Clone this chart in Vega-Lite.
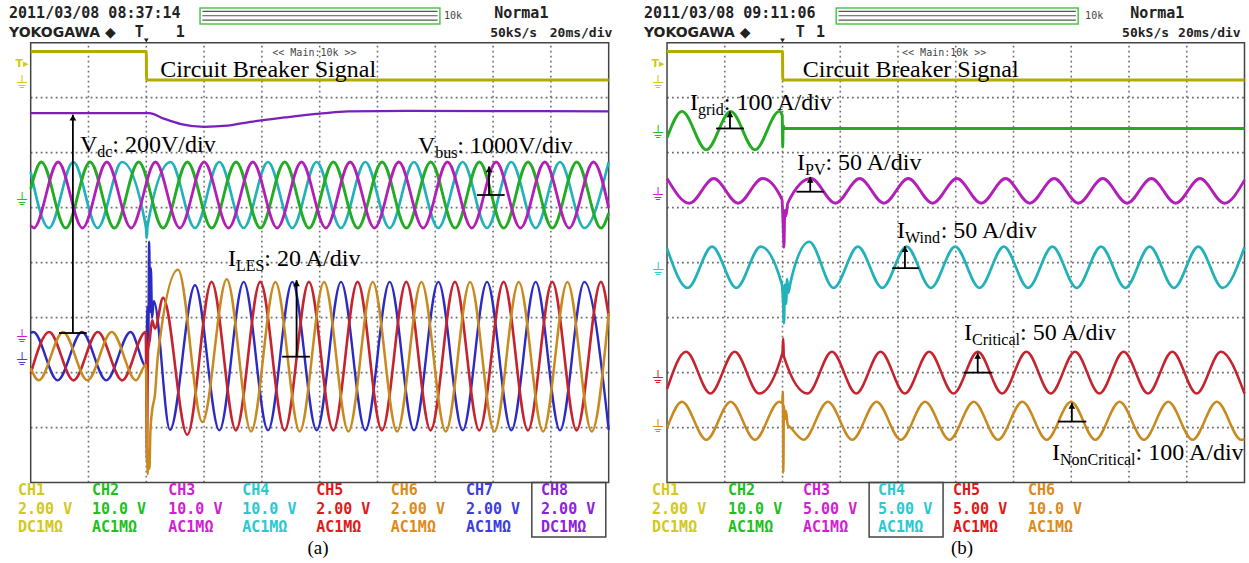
{
"$schema": "https://vega.github.io/schema/vega-lite/v6.json",
"background": "white",
"padding": 0,
"spacing": 0,
"config": {"view": {"stroke": null}, "concat": {"spacing": 0}},
"datasets": {
"gx": [{"x":1,"y":0,"y2":8},{"x":2,"y":0,"y2":8},{"x":3,"y":0,"y2":8},{"x":4,"y":0,"y2":8},{"x":5,"y":0,"y2":8},{"x":6,"y":0,"y2":8},{"x":7,"y":0,"y2":8},{"x":8,"y":0,"y2":8},{"x":9,"y":0,"y2":8}],
"gy": [{"y":1,"x":0,"x2":10},{"y":2,"x":0,"x2":10},{"y":3,"x":0,"x2":10},{"y":4,"x":0,"x2":10},{"y":5,"x":0,"x2":10},{"y":6,"x":0,"x2":10},{"y":7,"x":0,"x2":10}],
"box": [{"p":"a","x":0,"x2":10,"y":0,"y2":8},{"p":"a","x":8.67,"x2":9.95,"y":-0.987,"y2":0},{"p":"b","x":0,"x2":10,"y":0,"y2":8},{"p":"b","x":3.5,"x2":4.78,"y":-0.987,"y2":0}],
"hbar": [{"p":"a","x":2.93,"x2":7.08,"y":8.34,"y2":8.63},{"p":"b","x":2.93,"x2":7.12,"y":8.34,"y2":8.63}],
"bl": [{"p":"a","x":2.97,"x2":7.04,"y":8.57},{"p":"a","x":2.97,"x2":7.04,"y":8.49},{"p":"a","x":2.97,"x2":7.04,"y":8.41},{"p":"b","x":2.97,"x2":7.08,"y":8.57},{"p":"b","x":2.97,"x2":7.08,"y":8.49},{"p":"b","x":2.97,"x2":7.08,"y":8.41}],
"trig": [{"p":"a","x":2.0,"y":8.04},{"p":"b","x":2.0,"y":8.04}],
"tl": [{"p":"a","c":"CH1","x":-0.15,"y":7.62},{"p":"b","c":"CH1","x":-0.156,"y":7.62}],
"tr": [
{"p":"a","c":"CH1","x":0,"y":7.84},{"p":"a","c":"CH1","x":2.0,"y":7.84},{"p":"a","c":"CH1","x":2.004,"y":7.32},{"p":"a","c":"CH1","x":10,"y":7.32},
{"p":"a","c":"CH8","x":0,"y":6.72},{"p":"a","c":"CH8","x":2.05,"y":6.72},{"p":"a","c":"CH8","x":2.3,"y":6.62},{"p":"a","c":"CH8","x":2.6,"y":6.52},{"p":"a","c":"CH8","x":3.0,"y":6.47},{"p":"a","c":"CH8","x":3.4,"y":6.49},{"p":"a","c":"CH8","x":3.8,"y":6.56},{"p":"a","c":"CH8","x":4.4,"y":6.64},{"p":"a","c":"CH8","x":5.0,"y":6.71},{"p":"a","c":"CH8","x":5.5,"y":6.75},{"p":"a","c":"CH8","x":6.5,"y":6.76},{"p":"a","c":"CH8","x":10,"y":6.75},
{"p":"a","c":"CH4","x":0,"y":5.65},{"p":"a","c":"CH4","x":0.316,"y":4.63},{"p":"a","c":"CH4","x":0.737,"y":5.83},{"p":"a","c":"CH4","x":1.158,"y":4.63},{"p":"a","c":"CH4","x":1.579,"y":5.83},{"p":"a","c":"CH4","x":1.995,"y":4.64},{"p":"a","c":"CH4","x":2.008,"y":4.45},{"p":"a","c":"CH4","x":2.02,"y":4.66},{"p":"a","c":"CH4","x":2.421,"y":5.83},{"p":"a","c":"CH4","x":2.842,"y":4.63},{"p":"a","c":"CH4","x":3.263,"y":5.83},{"p":"a","c":"CH4","x":3.684,"y":4.63},{"p":"a","c":"CH4","x":4.105,"y":5.83},{"p":"a","c":"CH4","x":4.526,"y":4.63},{"p":"a","c":"CH4","x":4.947,"y":5.83},{"p":"a","c":"CH4","x":5.368,"y":4.63},{"p":"a","c":"CH4","x":5.789,"y":5.83},{"p":"a","c":"CH4","x":6.21,"y":4.63},{"p":"a","c":"CH4","x":6.631,"y":5.83},{"p":"a","c":"CH4","x":7.052,"y":4.63},{"p":"a","c":"CH4","x":7.473,"y":5.83},{"p":"a","c":"CH4","x":7.894,"y":4.63},{"p":"a","c":"CH4","x":8.315,"y":5.83},{"p":"a","c":"CH4","x":8.736,"y":4.63},{"p":"a","c":"CH4","x":9.157,"y":5.83},{"p":"a","c":"CH4","x":9.578,"y":4.63},{"p":"a","c":"CH4","x":9.999,"y":5.83},
{"p":"a","c":"CH2","x":0,"y":5.34},{"p":"a","c":"CH2","x":0.185,"y":5.83},{"p":"a","c":"CH2","x":0.606,"y":4.63},{"p":"a","c":"CH2","x":1.027,"y":5.83},{"p":"a","c":"CH2","x":1.448,"y":4.63},{"p":"a","c":"CH2","x":1.869,"y":5.83},{"p":"a","c":"CH2","x":2.29,"y":4.63},{"p":"a","c":"CH2","x":2.711,"y":5.83},{"p":"a","c":"CH2","x":3.132,"y":4.63},{"p":"a","c":"CH2","x":3.553,"y":5.83},{"p":"a","c":"CH2","x":3.974,"y":4.63},{"p":"a","c":"CH2","x":4.395,"y":5.83},{"p":"a","c":"CH2","x":4.816,"y":4.63},{"p":"a","c":"CH2","x":5.237,"y":5.83},{"p":"a","c":"CH2","x":5.658,"y":4.63},{"p":"a","c":"CH2","x":6.079,"y":5.83},{"p":"a","c":"CH2","x":6.5,"y":4.63},{"p":"a","c":"CH2","x":6.921,"y":5.83},{"p":"a","c":"CH2","x":7.342,"y":4.63},{"p":"a","c":"CH2","x":7.763,"y":5.83},{"p":"a","c":"CH2","x":8.184,"y":4.63},{"p":"a","c":"CH2","x":8.605,"y":5.83},{"p":"a","c":"CH2","x":9.026,"y":4.63},{"p":"a","c":"CH2","x":9.447,"y":5.83},{"p":"a","c":"CH2","x":9.868,"y":4.63},{"p":"a","c":"CH2","x":10,"y":4.9},
{"p":"a","c":"CH3","x":0,"y":4.68},{"p":"a","c":"CH3","x":0.054,"y":4.63},{"p":"a","c":"CH3","x":0.475,"y":5.83},{"p":"a","c":"CH3","x":0.896,"y":4.63},{"p":"a","c":"CH3","x":1.317,"y":5.83},{"p":"a","c":"CH3","x":1.738,"y":4.63},{"p":"a","c":"CH3","x":2.159,"y":5.83},{"p":"a","c":"CH3","x":2.58,"y":4.63},{"p":"a","c":"CH3","x":3.001,"y":5.83},{"p":"a","c":"CH3","x":3.422,"y":4.63},{"p":"a","c":"CH3","x":3.843,"y":5.83},{"p":"a","c":"CH3","x":4.264,"y":4.63},{"p":"a","c":"CH3","x":4.685,"y":5.83},{"p":"a","c":"CH3","x":5.106,"y":4.63},{"p":"a","c":"CH3","x":5.527,"y":5.83},{"p":"a","c":"CH3","x":5.948,"y":4.63},{"p":"a","c":"CH3","x":6.369,"y":5.83},{"p":"a","c":"CH3","x":6.79,"y":4.63},{"p":"a","c":"CH3","x":7.211,"y":5.83},{"p":"a","c":"CH3","x":7.632,"y":4.63},{"p":"a","c":"CH3","x":8.053,"y":5.83},{"p":"a","c":"CH3","x":8.474,"y":4.63},{"p":"a","c":"CH3","x":8.895,"y":5.83},{"p":"a","c":"CH3","x":9.316,"y":4.63},{"p":"a","c":"CH3","x":9.737,"y":5.83},{"p":"a","c":"CH3","x":10,"y":5.0},
{"p":"a","c":"CH7","x":0,"y":2.72},{"p":"a","c":"CH7","x":0.045,"y":2.74},{"p":"a","c":"CH7","x":0.466,"y":1.86},{"p":"a","c":"CH7","x":0.887,"y":2.74},{"p":"a","c":"CH7","x":1.308,"y":1.86},{"p":"a","c":"CH7","x":1.729,"y":2.74},{"p":"a","c":"CH7","x":2.0,"y":2.11},{"p":"a","c":"CH7","x":2.02,"y":3.2},{"p":"a","c":"CH7","x":2.035,"y":2.6},{"p":"a","c":"CH7","x":2.05,"y":4.38},{"p":"a","c":"CH7","x":2.065,"y":3.1},{"p":"a","c":"CH7","x":2.08,"y":3.9},{"p":"a","c":"CH7","x":2.1,"y":3.0},{"p":"a","c":"CH7","x":2.13,"y":3.3},{"p":"a","c":"CH7","x":2.41,"y":0.96},{"p":"a","c":"CH7","x":2.843,"y":3.59},{"p":"a","c":"CH7","x":3.264,"y":0.95},{"p":"a","c":"CH7","x":3.685,"y":3.65},{"p":"a","c":"CH7","x":4.106,"y":0.95},{"p":"a","c":"CH7","x":4.527,"y":3.65},{"p":"a","c":"CH7","x":4.948,"y":0.95},{"p":"a","c":"CH7","x":5.369,"y":3.65},{"p":"a","c":"CH7","x":5.79,"y":0.95},{"p":"a","c":"CH7","x":6.211,"y":3.65},{"p":"a","c":"CH7","x":6.632,"y":0.95},{"p":"a","c":"CH7","x":7.053,"y":3.65},{"p":"a","c":"CH7","x":7.474,"y":0.95},{"p":"a","c":"CH7","x":7.895,"y":3.65},{"p":"a","c":"CH7","x":8.316,"y":0.95},{"p":"a","c":"CH7","x":8.737,"y":3.65},{"p":"a","c":"CH7","x":9.158,"y":0.95},{"p":"a","c":"CH7","x":9.579,"y":3.65},{"p":"a","c":"CH7","x":10,"y":0.96},
{"p":"a","c":"CH5","x":0,"y":1.98},{"p":"a","c":"CH5","x":0.32,"y":2.74},{"p":"a","c":"CH5","x":0.741,"y":1.86},{"p":"a","c":"CH5","x":1.162,"y":2.74},{"p":"a","c":"CH5","x":1.583,"y":1.86},{"p":"a","c":"CH5","x":1.99,"y":2.74},{"p":"a","c":"CH5","x":2.005,"y":1.2},{"p":"a","c":"CH5","x":2.012,"y":0.4},{"p":"a","c":"CH5","x":2.02,"y":1.5},{"p":"a","c":"CH5","x":2.03,"y":2.4},{"p":"a","c":"CH5","x":2.06,"y":2.6},{"p":"a","c":"CH5","x":2.1,"y":2.95},{"p":"a","c":"CH5","x":2.15,"y":2.8},{"p":"a","c":"CH5","x":2.29,"y":3.36},{"p":"a","c":"CH5","x":2.709,"y":0.87},{"p":"a","c":"CH5","x":3.13,"y":3.65},{"p":"a","c":"CH5","x":3.551,"y":0.95},{"p":"a","c":"CH5","x":3.972,"y":3.65},{"p":"a","c":"CH5","x":4.393,"y":0.95},{"p":"a","c":"CH5","x":4.814,"y":3.65},{"p":"a","c":"CH5","x":5.235,"y":0.95},{"p":"a","c":"CH5","x":5.656,"y":3.65},{"p":"a","c":"CH5","x":6.077,"y":0.95},{"p":"a","c":"CH5","x":6.498,"y":3.65},{"p":"a","c":"CH5","x":6.919,"y":0.95},{"p":"a","c":"CH5","x":7.34,"y":3.65},{"p":"a","c":"CH5","x":7.761,"y":0.95},{"p":"a","c":"CH5","x":8.182,"y":3.65},{"p":"a","c":"CH5","x":8.603,"y":0.95},{"p":"a","c":"CH5","x":9.024,"y":3.65},{"p":"a","c":"CH5","x":9.445,"y":0.95},{"p":"a","c":"CH5","x":9.866,"y":3.65},{"p":"a","c":"CH5","x":10,"y":3.03},
{"p":"a","c":"CH6","x":0,"y":2.08},{"p":"a","c":"CH6","x":0.139,"y":1.86},{"p":"a","c":"CH6","x":0.56,"y":2.74},{"p":"a","c":"CH6","x":0.981,"y":1.86},{"p":"a","c":"CH6","x":1.402,"y":2.74},{"p":"a","c":"CH6","x":1.823,"y":1.86},{"p":"a","c":"CH6","x":1.995,"y":2.15},{"p":"a","c":"CH6","x":2.01,"y":1.0},{"p":"a","c":"CH6","x":2.025,"y":0.15},{"p":"a","c":"CH6","x":2.04,"y":0.6},{"p":"a","c":"CH6","x":2.055,"y":0.25},{"p":"a","c":"CH6","x":2.07,"y":0.9},{"p":"a","c":"CH6","x":2.1,"y":1.3},{"p":"a","c":"CH6","x":2.15,"y":1.6},{"p":"a","c":"CH6","x":2.2,"y":2.3},{"p":"a","c":"CH6","x":2.55,"y":3.87},{"p":"a","c":"CH6","x":2.971,"y":1.1},{"p":"a","c":"CH6","x":3.392,"y":3.7},{"p":"a","c":"CH6","x":3.813,"y":0.93},{"p":"a","c":"CH6","x":4.234,"y":3.65},{"p":"a","c":"CH6","x":4.655,"y":0.93},{"p":"a","c":"CH6","x":5.076,"y":3.65},{"p":"a","c":"CH6","x":5.497,"y":0.93},{"p":"a","c":"CH6","x":5.918,"y":3.65},{"p":"a","c":"CH6","x":6.339,"y":0.93},{"p":"a","c":"CH6","x":6.76,"y":3.65},{"p":"a","c":"CH6","x":7.181,"y":0.93},{"p":"a","c":"CH6","x":7.602,"y":3.65},{"p":"a","c":"CH6","x":8.023,"y":0.93},{"p":"a","c":"CH6","x":8.444,"y":3.65},{"p":"a","c":"CH6","x":8.865,"y":0.93},{"p":"a","c":"CH6","x":9.286,"y":3.65},{"p":"a","c":"CH6","x":9.707,"y":0.93},{"p":"a","c":"CH6","x":10,"y":3.08},
{"p":"b","c":"CH1","x":0,"y":7.84},{"p":"b","c":"CH1","x":2.0,"y":7.84},{"p":"b","c":"CH1","x":2.004,"y":7.32},{"p":"b","c":"CH1","x":10,"y":7.32},
{"p":"b","c":"CH2","x":0,"y":6.27},{"p":"b","c":"CH2","x":0.26,"y":6.75},{"p":"b","c":"CH2","x":0.681,"y":6.05},{"p":"b","c":"CH2","x":1.102,"y":6.75},{"p":"b","c":"CH2","x":1.523,"y":6.05},{"p":"b","c":"CH2","x":1.944,"y":6.75},{"p":"b","c":"CH2","x":1.995,"y":6.68},{"p":"b","c":"CH2","x":2.003,"y":6.1},{"p":"b","c":"CH2","x":2.012,"y":6.5},{"p":"b","c":"CH2","x":2.03,"y":6.44},{"p":"b","c":"CH2","x":10,"y":6.44},
{"p":"b","c":"CH3","x":0,"y":5.53},{"p":"b","c":"CH3","x":0.389,"y":5.08},{"p":"b","c":"CH3","x":0.81,"y":5.53},{"p":"b","c":"CH3","x":1.231,"y":5.08},{"p":"b","c":"CH3","x":1.652,"y":5.53},{"p":"b","c":"CH3","x":1.99,"y":5.15},{"p":"b","c":"CH3","x":2.01,"y":4.7},{"p":"b","c":"CH3","x":2.025,"y":4.28},{"p":"b","c":"CH3","x":2.04,"y":4.95},{"p":"b","c":"CH3","x":2.06,"y":4.85},{"p":"b","c":"CH3","x":2.09,"y":5.08},{"p":"b","c":"CH3","x":2.494,"y":5.53},{"p":"b","c":"CH3","x":2.915,"y":5.08},{"p":"b","c":"CH3","x":3.336,"y":5.53},{"p":"b","c":"CH3","x":3.757,"y":5.08},{"p":"b","c":"CH3","x":4.178,"y":5.53},{"p":"b","c":"CH3","x":4.599,"y":5.08},{"p":"b","c":"CH3","x":5.02,"y":5.53},{"p":"b","c":"CH3","x":5.441,"y":5.08},{"p":"b","c":"CH3","x":5.862,"y":5.53},{"p":"b","c":"CH3","x":6.283,"y":5.08},{"p":"b","c":"CH3","x":6.704,"y":5.53},{"p":"b","c":"CH3","x":7.125,"y":5.08},{"p":"b","c":"CH3","x":7.546,"y":5.53},{"p":"b","c":"CH3","x":7.967,"y":5.08},{"p":"b","c":"CH3","x":8.388,"y":5.53},{"p":"b","c":"CH3","x":8.809,"y":5.08},{"p":"b","c":"CH3","x":9.23,"y":5.53},{"p":"b","c":"CH3","x":9.651,"y":5.08},{"p":"b","c":"CH3","x":10,"y":5.5},
{"p":"b","c":"CH4","x":0,"y":4.26},{"p":"b","c":"CH4","x":0.359,"y":3.54},{"p":"b","c":"CH4","x":0.78,"y":4.29},{"p":"b","c":"CH4","x":1.201,"y":3.54},{"p":"b","c":"CH4","x":1.622,"y":4.29},{"p":"b","c":"CH4","x":1.99,"y":3.6},{"p":"b","c":"CH4","x":2.01,"y":3.3},{"p":"b","c":"CH4","x":2.025,"y":2.9},{"p":"b","c":"CH4","x":2.04,"y":3.6},{"p":"b","c":"CH4","x":2.06,"y":3.25},{"p":"b","c":"CH4","x":2.08,"y":3.7},{"p":"b","c":"CH4","x":2.1,"y":3.45},{"p":"b","c":"CH4","x":2.14,"y":3.65},{"p":"b","c":"CH4","x":2.464,"y":4.38},{"p":"b","c":"CH4","x":2.885,"y":3.54},{"p":"b","c":"CH4","x":3.306,"y":4.29},{"p":"b","c":"CH4","x":3.727,"y":3.54},{"p":"b","c":"CH4","x":4.148,"y":4.29},{"p":"b","c":"CH4","x":4.569,"y":3.54},{"p":"b","c":"CH4","x":4.99,"y":4.29},{"p":"b","c":"CH4","x":5.411,"y":3.54},{"p":"b","c":"CH4","x":5.832,"y":4.29},{"p":"b","c":"CH4","x":6.253,"y":3.54},{"p":"b","c":"CH4","x":6.674,"y":4.29},{"p":"b","c":"CH4","x":7.095,"y":3.54},{"p":"b","c":"CH4","x":7.516,"y":4.29},{"p":"b","c":"CH4","x":7.937,"y":3.54},{"p":"b","c":"CH4","x":8.358,"y":4.29},{"p":"b","c":"CH4","x":8.779,"y":3.54},{"p":"b","c":"CH4","x":9.2,"y":4.29},{"p":"b","c":"CH4","x":9.621,"y":3.54},{"p":"b","c":"CH4","x":10,"y":4.28},
{"p":"b","c":"CH5","x":0,"y":1.7},{"p":"b","c":"CH5","x":0.33,"y":2.38},{"p":"b","c":"CH5","x":0.751,"y":1.62},{"p":"b","c":"CH5","x":1.172,"y":2.38},{"p":"b","c":"CH5","x":1.593,"y":1.62},{"p":"b","c":"CH5","x":2.0,"y":2.36},{"p":"b","c":"CH5","x":2.012,"y":2.62},{"p":"b","c":"CH5","x":2.022,"y":2.3},{"p":"b","c":"CH5","x":2.435,"y":1.62},{"p":"b","c":"CH5","x":2.856,"y":2.38},{"p":"b","c":"CH5","x":3.277,"y":1.62},{"p":"b","c":"CH5","x":3.698,"y":2.38},{"p":"b","c":"CH5","x":4.119,"y":1.62},{"p":"b","c":"CH5","x":4.54,"y":2.38},{"p":"b","c":"CH5","x":4.961,"y":1.62},{"p":"b","c":"CH5","x":5.382,"y":2.38},{"p":"b","c":"CH5","x":5.803,"y":1.62},{"p":"b","c":"CH5","x":6.224,"y":2.38},{"p":"b","c":"CH5","x":6.645,"y":1.62},{"p":"b","c":"CH5","x":7.066,"y":2.38},{"p":"b","c":"CH5","x":7.487,"y":1.62},{"p":"b","c":"CH5","x":7.908,"y":2.38},{"p":"b","c":"CH5","x":8.329,"y":1.62},{"p":"b","c":"CH5","x":8.75,"y":2.38},{"p":"b","c":"CH5","x":9.171,"y":1.62},{"p":"b","c":"CH5","x":9.592,"y":2.38},{"p":"b","c":"CH5","x":10,"y":1.62},
{"p":"b","c":"CH6","x":0,"y":0.99},{"p":"b","c":"CH6","x":0.26,"y":1.47},{"p":"b","c":"CH6","x":0.681,"y":0.78},{"p":"b","c":"CH6","x":1.102,"y":1.47},{"p":"b","c":"CH6","x":1.523,"y":0.78},{"p":"b","c":"CH6","x":1.944,"y":1.47},{"p":"b","c":"CH6","x":1.995,"y":1.45},{"p":"b","c":"CH6","x":2.006,"y":1.65},{"p":"b","c":"CH6","x":2.014,"y":0.18},{"p":"b","c":"CH6","x":2.024,"y":1.4},{"p":"b","c":"CH6","x":2.04,"y":1.15},{"p":"b","c":"CH6","x":2.06,"y":1.3},{"p":"b","c":"CH6","x":2.09,"y":1.05},{"p":"b","c":"CH6","x":2.14,"y":1.0},{"p":"b","c":"CH6","x":2.365,"y":0.78},{"p":"b","c":"CH6","x":2.786,"y":1.47},{"p":"b","c":"CH6","x":3.207,"y":0.78},{"p":"b","c":"CH6","x":3.628,"y":1.47},{"p":"b","c":"CH6","x":4.049,"y":0.78},{"p":"b","c":"CH6","x":4.47,"y":1.47},{"p":"b","c":"CH6","x":4.891,"y":0.78},{"p":"b","c":"CH6","x":5.312,"y":1.47},{"p":"b","c":"CH6","x":5.733,"y":0.78},{"p":"b","c":"CH6","x":6.154,"y":1.47},{"p":"b","c":"CH6","x":6.575,"y":0.78},{"p":"b","c":"CH6","x":6.996,"y":1.47},{"p":"b","c":"CH6","x":7.417,"y":0.78},{"p":"b","c":"CH6","x":7.838,"y":1.47},{"p":"b","c":"CH6","x":8.259,"y":0.78},{"p":"b","c":"CH6","x":8.68,"y":1.47},{"p":"b","c":"CH6","x":9.101,"y":0.78},{"p":"b","c":"CH6","x":9.522,"y":1.47},{"p":"b","c":"CH6","x":9.943,"y":0.78},{"p":"b","c":"CH6","x":10,"y":0.79}
],
"arr": [
{"p":"a","x":0.73,"xa":0.49,"xb":0.97,"y":2.72,"yt":6.69},
{"p":"a","x":7.93,"xa":7.72,"xb":8.2,"y":5.23,"yt":5.75},
{"p":"a","x":4.6,"xa":4.35,"xb":4.83,"y":2.29,"yt":3.68},
{"p":"b","x":1.09,"xa":0.85,"xb":1.33,"y":6.44,"yt":6.75},
{"p":"b","x":2.48,"xa":2.24,"xb":2.72,"y":5.29,"yt":5.56},
{"p":"b","x":4.12,"xa":3.9,"xb":4.36,"y":3.9,"yt":4.3},
{"p":"b","x":5.38,"xa":5.14,"xb":5.63,"y":2.0,"yt":2.36},
{"p":"b","x":7.01,"xa":6.77,"xb":7.26,"y":1.11,"yt":1.45}
],
"lab": [
{"p":"a","t":"Circuit Breaker Signal","x":2.24,"y":7.38},
{"p":"a","t":"V","x":0.853,"y":6.02},{"p":"a","t":": 200V/div","x":1.413,"y":6.02},
{"p":"a","t":"V","x":6.7,"y":5.99},{"p":"a","t":": 1000V/div","x":7.38,"y":5.99},
{"p":"a","t":"I","x":3.414,"y":3.93},{"p":"a","t":": 20 A/div","x":4.043,"y":3.93},
{"p":"b","t":"Circuit Breaker Signal","x":2.35,"y":7.38},
{"p":"b","t":"I","x":0.398,"y":6.78},{"p":"b","t":": 100 A/div","x":0.984,"y":6.78},
{"p":"b","t":"I","x":2.251,"y":5.69},{"p":"b","t":": 50 A/div","x":2.743,"y":5.69},
{"p":"b","t":"I","x":3.983,"y":4.44},{"p":"b","t":": 50 A/div","x":4.738,"y":4.44},
{"p":"b","t":"I","x":5.143,"y":2.59},{"p":"b","t":": 50 A/div","x":6.113,"y":2.59},
{"p":"b","t":"I","x":6.667,"y":0.41},{"p":"b","t":": 100 A/div","x":8.114,"y":0.41}
],
"sub": [
{"p":"a","t":"dc","x":1.152,"y":5.93},{"p":"a","t":"bus","x":7.0,"y":5.9},{"p":"a","t":"LES","x":3.552,"y":3.84},
{"p":"b","t":"grid","x":0.537,"y":6.69},{"p":"b","t":"PV","x":2.39,"y":5.6},{"p":"b","t":"Wind","x":4.121,"y":4.35},{"p":"b","t":"Critical","x":5.281,"y":2.5},{"p":"b","t":"NonCritical","x":6.805,"y":0.32}
],
"hmono": [
{"p":"a","t":"2011/03/08 08:37:14","x":-0.375,"y":8.45},{"p":"a","t":"Norma1","x":8.02,"y":8.45},{"p":"a","t":"T","x":1.8,"y":8.1},{"p":"a","t":"1","x":2.51,"y":8.1},
{"p":"b","t":"2011/03/08 09:11:06","x":-0.4,"y":8.45},{"p":"b","t":"Norma1","x":8.02,"y":8.45},{"p":"b","t":"T","x":2.23,"y":8.1},{"p":"b","t":"1","x":2.58,"y":8.1}
],
"hmono2": [
{"p":"a","t":"50kS/s","x":7.95,"y":8.1},{"p":"a","t":"20ms/div","x":8.98,"y":8.1},
{"p":"b","t":"50kS/s","x":7.88,"y":8.1},{"p":"b","t":"20ms/div","x":8.85,"y":8.1}
],
"hsans": [
{"p":"a","t":"YOKOGAWA ◆","x":-0.375,"y":8.1},{"p":"b","t":"YOKOGAWA ◆","x":-0.4,"y":8.1}
],
"hsmall": [
{"p":"a","t":"10k","x":7.15,"y":8.43},{"p":"a","t":"<< Main:10k >>","x":4.18,"y":7.76},
{"p":"b","t":"10k","x":7.24,"y":8.43},{"p":"b","t":"<< Main:10k >>","x":4.07,"y":7.76}
],
"foot": [
{"p":"a","c":"CH1","t":"CH1","x":-0.22,"y":-0.133},{"p":"a","c":"CH1","t":"2.00 V","x":-0.22,"y":-0.478},{"p":"a","c":"CH1","t":"DC1MΩ","x":-0.22,"y":-0.805},
{"p":"a","c":"CH2","t":"CH2","x":1.06,"y":-0.133},{"p":"a","c":"CH2","t":"10.0 V","x":1.06,"y":-0.478},{"p":"a","c":"CH2","t":"AC1MΩ","x":1.06,"y":-0.805},
{"p":"a","c":"CH3","t":"CH3","x":2.38,"y":-0.133},{"p":"a","c":"CH3","t":"10.0 V","x":2.38,"y":-0.478},{"p":"a","c":"CH3","t":"AC1MΩ","x":2.38,"y":-0.805},
{"p":"a","c":"CH4","t":"CH4","x":3.66,"y":-0.133},{"p":"a","c":"CH4","t":"10.0 V","x":3.66,"y":-0.478},{"p":"a","c":"CH4","t":"AC1MΩ","x":3.66,"y":-0.805},
{"p":"a","c":"CH5","t":"CH5","x":4.94,"y":-0.133},{"p":"a","c":"CH5","t":"2.00 V","x":4.94,"y":-0.478},{"p":"a","c":"CH5","t":"AC1MΩ","x":4.94,"y":-0.805},
{"p":"a","c":"CH6","t":"CH6","x":6.23,"y":-0.133},{"p":"a","c":"CH6","t":"2.00 V","x":6.23,"y":-0.478},{"p":"a","c":"CH6","t":"AC1MΩ","x":6.23,"y":-0.805},
{"p":"a","c":"CH7","t":"CH7","x":7.53,"y":-0.133},{"p":"a","c":"CH7","t":"2.00 V","x":7.53,"y":-0.478},{"p":"a","c":"CH7","t":"AC1MΩ","x":7.53,"y":-0.805},
{"p":"a","c":"CH8","t":"CH8","x":8.83,"y":-0.133},{"p":"a","c":"CH8","t":"2.00 V","x":8.83,"y":-0.478},{"p":"a","c":"CH8","t":"DC1MΩ","x":8.83,"y":-0.805},
{"p":"b","c":"CH1","t":"CH1","x":-0.26,"y":-0.133},{"p":"b","c":"CH1","t":"2.00 V","x":-0.26,"y":-0.478},{"p":"b","c":"CH1","t":"DC1MΩ","x":-0.26,"y":-0.805},
{"p":"b","c":"CH2","t":"CH2","x":1.056,"y":-0.133},{"p":"b","c":"CH2","t":"10.0 V","x":1.056,"y":-0.478},{"p":"b","c":"CH2","t":"AC1MΩ","x":1.056,"y":-0.805},
{"p":"b","c":"CH3","t":"CH3","x":2.355,"y":-0.133},{"p":"b","c":"CH3","t":"5.00 V","x":2.355,"y":-0.478},{"p":"b","c":"CH3","t":"AC1MΩ","x":2.355,"y":-0.805},
{"p":"b","c":"CH4","t":"CH4","x":3.654,"y":-0.133},{"p":"b","c":"CH4","t":"5.00 V","x":3.654,"y":-0.478},{"p":"b","c":"CH4","t":"AC1MΩ","x":3.654,"y":-0.805},
{"p":"b","c":"CH5","t":"CH5","x":4.952,"y":-0.133},{"p":"b","c":"CH5","t":"5.00 V","x":4.952,"y":-0.478},{"p":"b","c":"CH5","t":"AC1MΩ","x":4.952,"y":-0.805},
{"p":"b","c":"CH6","t":"CH6","x":6.25,"y":-0.133},{"p":"b","c":"CH6","t":"10.0 V","x":6.25,"y":-0.478},{"p":"b","c":"CH6","t":"AC1MΩ","x":6.25,"y":-0.805}
],
"gnd": [
{"p":"a","c":"CH1","x":-0.15,"y":7.27},{"p":"a","c":"CH2","x":-0.15,"y":5.14},{"p":"a","c":"CH3","x":-0.15,"y":2.65},{"p":"a","c":"CH7","x":-0.15,"y":2.23},
{"p":"b","c":"CH1","x":-0.156,"y":7.27},{"p":"b","c":"CH2","x":-0.156,"y":6.36},{"p":"b","c":"CH3","x":-0.156,"y":5.23},{"p":"b","c":"CH4","x":-0.156,"y":3.87},{"p":"b","c":"CH5","x":-0.156,"y":1.9},{"p":"b","c":"CH6","x":-0.156,"y":1.01}
],
"cap": [{"p":"a","t":"(a)","x":4.97,"y":-1.19},{"p":"b","t":"(b)","x":5.11,"y":-1.19}]
},
"hconcat": [
{
"width": 624, "height": 563,
"encoding": {
"x": {"field":"x","type":"quantitative","scale":{"domain":[-0.531,10.265],"nice":false,"zero":false},"axis":null},
"y": {"field":"y","type":"quantitative","scale":{"domain":[-1.4618,8.776],"nice":false,"zero":false},"axis":null}
},
"layer": [
{"data":{"name":"gx"},"mark":{"type":"rule","stroke":"#6e6e6e","strokeDash":[1.8,3.2],"strokeWidth":1.6},"encoding":{"y2":{"field":"y2"}}},
{"data":{"name":"gy"},"mark":{"type":"rule","stroke":"#6e6e6e","strokeDash":[1.8,3.2],"strokeWidth":1.6},"encoding":{"x2":{"field":"x2"}}},
{"data":{"name":"box"},"transform":[{"filter":"datum.p=='a'"}],"mark":{"type":"rect","fillOpacity":0,"stroke":"#444","strokeWidth":1.5},"encoding":{"x2":{"field":"x2"},"y2":{"field":"y2"}}},
{"data":{"name":"hbar"},"transform":[{"filter":"datum.p=='a'"}],"mark":{"type":"rect","fillOpacity":0,"stroke":"#4cc84c","strokeWidth":1.5},"encoding":{"x2":{"field":"x2"},"y2":{"field":"y2"}}},
{"data":{"name":"bl"},"transform":[{"filter":"datum.p=='a'"}],"mark":{"type":"rule","stroke":"#555","strokeWidth":1.2},"encoding":{"x2":{"field":"x2"}}},
{"data":{"name":"tr"},"transform":[{"filter":"datum.p=='a'"}],"mark":{"type":"line","interpolate":"monotone"},
 "encoding":{"stroke":{"field":"c","type":"nominal","legend":null,"scale":{"domain":["CH1","CH2","CH3","CH4","CH5","CH6","CH7","CH8"],"range":["#b3ab00","#23ac23","#b21fb8","#20b2b8","#c4232f","#c8891f","#2b2bc4","#7a1fb8"]}},
 "strokeWidth":{"field":"c","type":"nominal","legend":null,"scale":{"domain":["CH1","CH2","CH3","CH4","CH5","CH6","CH7","CH8"],"range":[3,2.3,2.3,2.3,2.2,2.2,2.2,3.8]}}}},
{"data":{"name":"arr"},"transform":[{"filter":"datum.p=='a'"}],"mark":{"type":"rule","stroke":"black","strokeWidth":1.8},"encoding":{"y2":{"field":"yt"}}},
{"data":{"name":"arr"},"transform":[{"filter":"datum.p=='a'"}],"mark":{"type":"rule","stroke":"black","strokeWidth":1.8},"encoding":{"x":{"field":"xa","type":"quantitative"},"x2":{"field":"xb"}}},
{"data":{"name":"arr"},"transform":[{"filter":"datum.p=='a'"}],"mark":{"type":"point","shape":"triangle-up","filled":true,"color":"black","size":45,"opacity":1,"yOffset":3},"encoding":{"y":{"field":"yt","type":"quantitative"}}},
{"data":{"name":"trig"},"transform":[{"filter":"datum.p=='a'"}],"mark":{"type":"point","shape":"triangle-down","filled":true,"color":"#222","size":22,"opacity":1},"encoding":{}},
{"data":{"name":"lab"},"transform":[{"filter":"datum.p=='a'"}],"mark":{"type":"text","font":"Liberation Serif","fontSize":24,"align":"left","baseline":"alphabetic","color":"black"},"encoding":{"text":{"field":"t"}}},
{"data":{"name":"sub"},"transform":[{"filter":"datum.p=='a'"}],"mark":{"type":"text","font":"Liberation Serif","fontSize":16,"align":"left","baseline":"alphabetic","color":"black"},"encoding":{"text":{"field":"t"}}},
{"data":{"name":"hmono"},"transform":[{"filter":"datum.p=='a'"}],"mark":{"type":"text","font":"DejaVu Sans Mono","fontWeight":"bold","fontSize":15,"align":"left","baseline":"alphabetic","color":"#222"},"encoding":{"text":{"field":"t"}}},
{"data":{"name":"hmono2"},"transform":[{"filter":"datum.p=='a'"}],"mark":{"type":"text","font":"DejaVu Sans Mono","fontWeight":"bold","fontSize":13,"align":"left","baseline":"alphabetic","color":"#222"},"encoding":{"text":{"field":"t"}}},
{"data":{"name":"hsans"},"transform":[{"filter":"datum.p=='a'"}],"mark":{"type":"text","font":"DejaVu Sans","fontWeight":"bold","fontSize":14,"align":"left","baseline":"alphabetic","color":"#222"},"encoding":{"text":{"field":"t"}}},
{"data":{"name":"hsmall"},"transform":[{"filter":"datum.p=='a'"}],"mark":{"type":"text","font":"DejaVu Sans Mono","fontSize":10,"align":"left","baseline":"alphabetic","color":"#444"},"encoding":{"text":{"field":"t"}}},
{"data":{"name":"foot"},"transform":[{"filter":"datum.p=='a'"}],"mark":{"type":"text","font":"DejaVu Sans Mono","fontWeight":"bold","fontSize":15,"align":"left","baseline":"middle"},
 "encoding":{"text":{"field":"t"},"fill":{"field":"c","type":"nominal","legend":null,"scale":{"domain":["CH1","CH2","CH3","CH4","CH5","CH6","CH7","CH8"],"range":["#d2c81e","#1ec01e","#d21ed2","#2ac8d2","#e01a1a","#dc8a1a","#3c3ce0","#8c22e0"]}}}},
{"data":{"name":"gnd"},"transform":[{"filter":"datum.p=='a'"}],"mark":{"type":"text","font":"DejaVu Sans","fontSize":17,"align":"center","baseline":"middle"},
 "encoding":{"text":{"value":"⏚"},"fill":{"field":"c","type":"nominal","legend":null,"scale":{"domain":["CH1","CH2","CH3","CH4","CH5","CH6","CH7","CH8"],"range":["#d2c81e","#1ec01e","#d21ed2","#2ac8d2","#e01a1a","#dc8a1a","#3c3ce0","#8c22e0"]}}}},
{"data":{"name":"tl"},"transform":[{"filter":"datum.p=='a'"}],"mark":{"type":"text","font":"DejaVu Sans","fontWeight":"bold","fontSize":11,"align":"center","baseline":"middle"},
 "encoding":{"text":{"value":"T▸"},"fill":{"field":"c","type":"nominal","legend":null,"scale":{"domain":["CH1","CH2","CH3","CH4","CH5","CH6","CH7","CH8"],"range":["#d2c81e","#1ec01e","#d21ed2","#2ac8d2","#e01a1a","#dc8a1a","#3c3ce0","#8c22e0"]}}}},
{"data":{"name":"cap"},"transform":[{"filter":"datum.p=='a'"}],"mark":{"type":"text","font":"Liberation Serif","fontSize":19,"align":"center","baseline":"middle","color":"black"},"encoding":{"text":{"field":"t"}}}
]
},
{
"width": 625, "height": 563,
"encoding": {
"x": {"field":"x","type":"quantitative","scale":{"domain":[-0.745,10.078],"nice":false,"zero":false},"axis":null},
"y": {"field":"y","type":"quantitative","scale":{"domain":[-1.4618,8.776],"nice":false,"zero":false},"axis":null}
},
"layer": [
{"data":{"name":"gx"},"mark":{"type":"rule","stroke":"#6e6e6e","strokeDash":[1.8,3.2],"strokeWidth":1.6},"encoding":{"y2":{"field":"y2"}}},
{"data":{"name":"gy"},"mark":{"type":"rule","stroke":"#6e6e6e","strokeDash":[1.8,3.2],"strokeWidth":1.6},"encoding":{"x2":{"field":"x2"}}},
{"data":{"name":"box"},"transform":[{"filter":"datum.p=='b'"}],"mark":{"type":"rect","fillOpacity":0,"stroke":"#444","strokeWidth":1.5},"encoding":{"x2":{"field":"x2"},"y2":{"field":"y2"}}},
{"data":{"name":"hbar"},"transform":[{"filter":"datum.p=='b'"}],"mark":{"type":"rect","fillOpacity":0,"stroke":"#4cc84c","strokeWidth":1.5},"encoding":{"x2":{"field":"x2"},"y2":{"field":"y2"}}},
{"data":{"name":"bl"},"transform":[{"filter":"datum.p=='b'"}],"mark":{"type":"rule","stroke":"#555","strokeWidth":1.2},"encoding":{"x2":{"field":"x2"}}},
{"data":{"name":"tr"},"transform":[{"filter":"datum.p=='b'"}],"mark":{"type":"line","interpolate":"monotone"},
 "encoding":{"stroke":{"field":"c","type":"nominal","legend":null,"scale":{"domain":["CH1","CH2","CH3","CH4","CH5","CH6"],"range":["#b3ab00","#2a9f2a","#a01fa0","#1fa3a3","#b01d2a","#b87c18"]}},
 "strokeWidth":{"field":"c","type":"nominal","legend":null,"scale":{"domain":["CH1","CH2","CH3","CH4","CH5","CH6"],"range":[3,2.8,2.4,2.4,2.4,2.4]}}}},
{"data":{"name":"arr"},"transform":[{"filter":"datum.p=='b'"}],"mark":{"type":"rule","stroke":"black","strokeWidth":1.8},"encoding":{"y2":{"field":"yt"}}},
{"data":{"name":"arr"},"transform":[{"filter":"datum.p=='b'"}],"mark":{"type":"rule","stroke":"black","strokeWidth":1.8},"encoding":{"x":{"field":"xa","type":"quantitative"},"x2":{"field":"xb"}}},
{"data":{"name":"arr"},"transform":[{"filter":"datum.p=='b'"}],"mark":{"type":"point","shape":"triangle-up","filled":true,"color":"black","size":45,"opacity":1,"yOffset":3},"encoding":{"y":{"field":"yt","type":"quantitative"}}},
{"data":{"name":"trig"},"transform":[{"filter":"datum.p=='b'"}],"mark":{"type":"point","shape":"triangle-down","filled":true,"color":"#222","size":22,"opacity":1},"encoding":{}},
{"data":{"name":"lab"},"transform":[{"filter":"datum.p=='b'"}],"mark":{"type":"text","font":"Liberation Serif","fontSize":24,"align":"left","baseline":"alphabetic","color":"black"},"encoding":{"text":{"field":"t"}}},
{"data":{"name":"sub"},"transform":[{"filter":"datum.p=='b'"}],"mark":{"type":"text","font":"Liberation Serif","fontSize":16,"align":"left","baseline":"alphabetic","color":"black"},"encoding":{"text":{"field":"t"}}},
{"data":{"name":"hmono"},"transform":[{"filter":"datum.p=='b'"}],"mark":{"type":"text","font":"DejaVu Sans Mono","fontWeight":"bold","fontSize":15,"align":"left","baseline":"alphabetic","color":"#222"},"encoding":{"text":{"field":"t"}}},
{"data":{"name":"hmono2"},"transform":[{"filter":"datum.p=='b'"}],"mark":{"type":"text","font":"DejaVu Sans Mono","fontWeight":"bold","fontSize":13,"align":"left","baseline":"alphabetic","color":"#222"},"encoding":{"text":{"field":"t"}}},
{"data":{"name":"hsans"},"transform":[{"filter":"datum.p=='b'"}],"mark":{"type":"text","font":"DejaVu Sans","fontWeight":"bold","fontSize":14,"align":"left","baseline":"alphabetic","color":"#222"},"encoding":{"text":{"field":"t"}}},
{"data":{"name":"hsmall"},"transform":[{"filter":"datum.p=='b'"}],"mark":{"type":"text","font":"DejaVu Sans Mono","fontSize":10,"align":"left","baseline":"alphabetic","color":"#444"},"encoding":{"text":{"field":"t"}}},
{"data":{"name":"foot"},"transform":[{"filter":"datum.p=='b'"}],"mark":{"type":"text","font":"DejaVu Sans Mono","fontWeight":"bold","fontSize":15,"align":"left","baseline":"middle"},
 "encoding":{"text":{"field":"t"},"fill":{"field":"c","type":"nominal","legend":null,"scale":{"domain":["CH1","CH2","CH3","CH4","CH5","CH6"],"range":["#d2c81e","#1ec01e","#d21ed2","#2ac8d2","#e01a1a","#dc8a1a"]}}}},
{"data":{"name":"gnd"},"transform":[{"filter":"datum.p=='b'"}],"mark":{"type":"text","font":"DejaVu Sans","fontSize":17,"align":"center","baseline":"middle"},
 "encoding":{"text":{"value":"⏚"},"fill":{"field":"c","type":"nominal","legend":null,"scale":{"domain":["CH1","CH2","CH3","CH4","CH5","CH6"],"range":["#d2c81e","#1ec01e","#d21ed2","#2ac8d2","#e01a1a","#dc8a1a"]}}}},
{"data":{"name":"tl"},"transform":[{"filter":"datum.p=='b'"}],"mark":{"type":"text","font":"DejaVu Sans","fontWeight":"bold","fontSize":11,"align":"center","baseline":"middle"},
 "encoding":{"text":{"value":"T▸"},"fill":{"field":"c","type":"nominal","legend":null,"scale":{"domain":["CH1","CH2","CH3","CH4","CH5","CH6"],"range":["#d2c81e","#1ec01e","#d21ed2","#2ac8d2","#e01a1a","#dc8a1a"]}}}},
{"data":{"name":"cap"},"transform":[{"filter":"datum.p=='b'"}],"mark":{"type":"text","font":"Liberation Serif","fontSize":19,"align":"center","baseline":"middle","color":"black"},"encoding":{"text":{"field":"t"}}}
]
}
]
}
